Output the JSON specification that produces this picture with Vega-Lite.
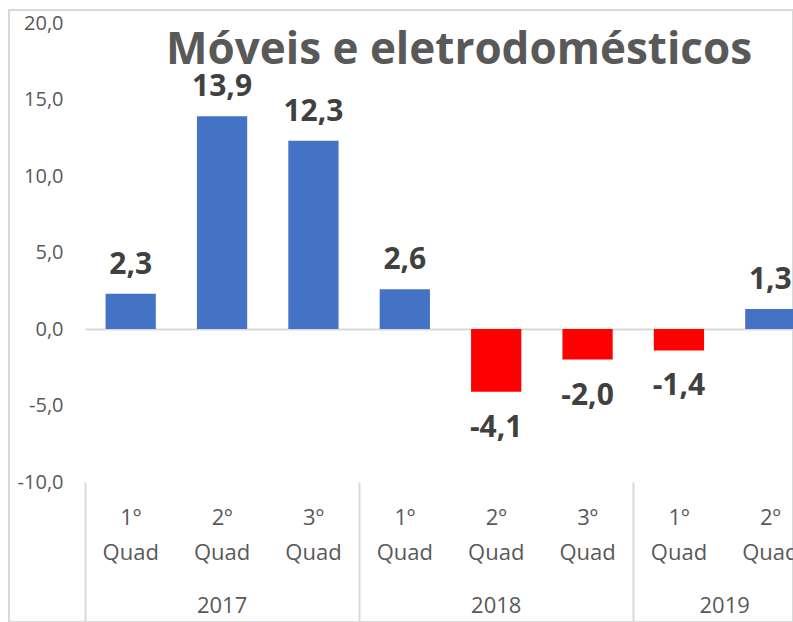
{
  "$schema": "https://vega.github.io/schema/vega-lite/v6.json",
  "width": 784,
  "height": 612,
  "autosize": {"type": "none"},
  "padding": {"left": 9, "top": 10, "right": 0, "bottom": 0},
  "background": "white",
  "config": {
    "locale": {"number": {"decimal": ",", "thousands": ".", "grouping": [3], "currency": ["R$", ""], "minus": "-"}},
    "view": {"stroke": "#d9d9d9", "strokeWidth": 2},
    "font": "Open Sans"
  },
  "title": {
    "text": "Móveis e eletrodomésticos",
    "font": "Open Sans",
    "fontSize": 44,
    "fontWeight": "bold",
    "color": "#595959",
    "anchor": "middle",
    "frame": "group",
    "baseline": "alphabetic",
    "offset": 0,
    "dy": 98,
    "dx": 58
  },
  "data": {
    "values": [
      {"periodo": "2017 1º", "valor": 2.3},
      {"periodo": "2017 2º", "valor": 13.9},
      {"periodo": "2017 3º", "valor": 12.3},
      {"periodo": "2018 1º", "valor": 2.6},
      {"periodo": "2018 2º", "valor": -4.1},
      {"periodo": "2018 3º", "valor": -2.0},
      {"periodo": "2019 1º", "valor": -1.4},
      {"periodo": "2019 2º", "valor": 1.3}
    ]
  },
  "resolve": {"axis": {"x": "independent"}},
  "layer": [
    {
      "mark": {"type": "bar", "width": {"band": 0.55}},
      "encoding": {
        "x": {
          "field": "periodo", "type": "nominal", "sort": null,
          "scale": {"range": [76, 807], "paddingInner": 0, "paddingOuter": 0},
          "axis": {
            "orient": "bottom", "offset": -293, "domain": true, "domainColor": "#d9d9d9", "domainWidth": 2,
            "ticks": false, "tickSize": 0, "labelPadding": 195,
            "labelExpr": "[slice(datum.value, 5), 'Quad']",
            "labelFont": "Open Sans", "labelFontSize": 22, "labelColor": "#595959",
            "labelLineHeight": 35, "labelBaseline": "alphabetic", "labelAngle": 0,
            "title": null, "grid": false
          }
        },
        "y": {
          "field": "valor", "type": "quantitative",
          "scale": {"domain": [-10, 20], "range": [472, 13], "nice": false, "zero": false},
          "axis": {
            "orient": "left", "offset": -76, "values": [-10, -5, 0, 5, 10, 15, 20], "format": ".1f",
            "domain": false, "ticks": false, "tickSize": 0, "labelPadding": 22,
            "labelFont": "Open Sans", "labelFontSize": 20, "labelColor": "#595959",
            "grid": false, "title": null
          }
        },
        "color": {"condition": {"test": "datum.valor < 0", "value": "#FF0000"}, "value": "#4472C4"}
      }
    },
    {
      "transform": [{"filter": "datum.valor >= 0"}],
      "mark": {"type": "text", "dy": -20, "baseline": "alphabetic", "fontSize": 30, "fontWeight": "bold", "font": "Open Sans", "color": "#404040"},
      "encoding": {
        "x": {
          "field": "periodo", "type": "nominal", "sort": null,
          "scale": {"range": [76, 807], "paddingInner": 0, "paddingOuter": 0},
          "axis": {
            "orient": "bottom", "offset": -140, "values": ["2017 1º", "2018 1º", "2019 1º"],
            "domain": false, "ticks": true, "tickSize": 140, "tickColor": "#d9d9d9", "tickWidth": 2,
            "bandPosition": 0, "tickExtra": false,
            "labelExpr": "slice(datum.value, 0, 4)", "labelPadding": -10,
            "labelFont": "Open Sans", "labelFontSize": 22, "labelColor": "#595959",
            "labelBaseline": "alphabetic", "labelAngle": 0,
            "labelOffset": {"condition": {"test": "datum.value === '2019 1º'", "value": 45.7}, "value": 91.4},
            "title": null, "grid": false
          }
        },
        "y": {"field": "valor", "type": "quantitative"},
        "text": {"field": "valor", "type": "quantitative", "format": ".1f"}
      }
    },
    {
      "transform": [{"filter": "datum.valor < 0"}],
      "mark": {"type": "text", "dy": 45, "baseline": "alphabetic", "fontSize": 30, "fontWeight": "bold", "font": "Open Sans", "color": "#404040"},
      "encoding": {
        "x": {
          "field": "periodo", "type": "nominal", "sort": null,
          "scale": {"range": [76, 807], "paddingInner": 0, "paddingOuter": 0},
          "axis": null
        },
        "y": {"field": "valor", "type": "quantitative"},
        "text": {"field": "valor", "type": "quantitative", "format": ".1f"}
      }
    }
  ]
}
